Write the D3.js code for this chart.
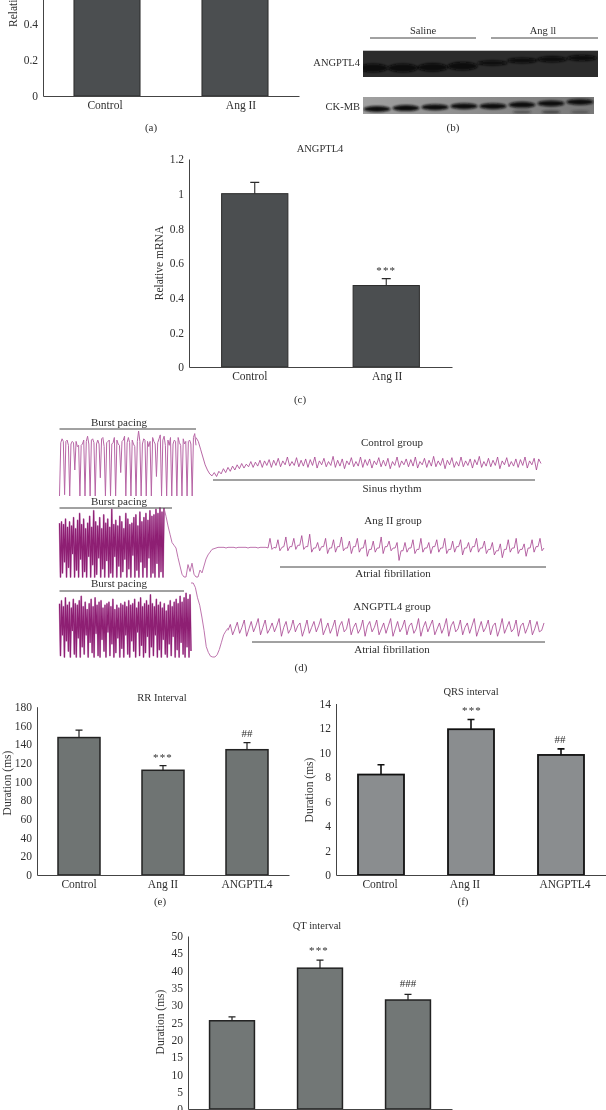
<!DOCTYPE html>
<html><head><meta charset="utf-8">
<style>
html,body{margin:0;padding:0;background:#fff;overflow:hidden}
svg{display:block;filter:blur(.35px)}
text{font-family:"Liberation Serif",serif;fill:#2f2f2f}
</style>
<script src="https://cdn.jsdelivr.net/npm/d3@7/dist/d3.min.js"></script>
</head><body><svg id="c" width="606" height="1110"></svg>
<script>
// ---------- bar chart data ----------
const catsTwo = ["Control", "Ang II"];
const catsThree = ["Control", "Ang II", "ANGPTL4"];
const ticksRelative = [0, 0.2, 0.4, 0.6, 0.8, 1, 1.2];
const ticksRelativeVisible = [0, 0.2, 0.4];
const ticksRR = [0, 20, 40, 60, 80, 100, 120, 140, 160, 180];
const ticksQRS = [0, 2, 4, 6, 8, 10, 12, 14];
const ticksQT = [0, 5, 10, 15, 20, 25, 30, 35, 40, 45, 50];
const valuesA = [1, 0.8];
const errorsA = [1.05, 0.85];
const valuesC = [1, 0.47];
const errorsC = [1.065, 0.51];
const valuesE = [147, 112, 134];
const errorsE = [155, 117, 141.5];
const valuesF = [8.2, 11.9, 9.8];
const errorsF = [9, 12.7, 10.3];
const valuesG = [25.5, 40.7, 31.5];
const errorsG = [26.6, 43, 33.1];
const marksC = ["", "***"];
const marksE = ["", "***", "##"];
const marksF = ["", "***", "##"];
const marksG = ["", "***", "###"];

// ---------- western blot data ----------
const lanes = [1, 2, 3, 4, 5, 6, 7, 8];
const angptl4Drift = [0, 0, 0.5, 1.5, 4, 6, 7, 8];
const angptl4Strength = [1, 1, 1, 1, 0.6, 0.65, 0.7, 0.7];
const ckmbDrift = [0, 1, 2, 3, 3, 4.5, 6, 7.5];
const ckmbStrength = [1, 1, 1, 1, 1, 1, 1, 1];
const ckmbLower = [0, 0, 0, 0, 0, 0.5, 0.6, 0.4];

// ---------- ECG traces (relative amplitude 0-100) ----------
const burstControl = [0,82,88,84,2,84,86,78,0,80,84,82,40,84,76,78,0,78,80,86,0,84,92,80,0,86,88,82,0,80,86,80,28,88,90,76,0,82,84,86,0,80,82,90,0,86,80,78,36,84,86,92,0,82,90,82,0,86,80,76,0,84,100,84,0,80,88,86,0,84,76,84,0,90,84,80,30,82,88,94,0,86,92,78,0,86,78,90,0,80,86,84,0,90,82,78,0,88,80,84,0,84,86,80,0,90,96,78];
const sinusControl = [90,84,72,60,48,40,34,31,36,30,38,34,42,36,44,38,46,40,48,42,50,43,49,45,53,44,52,46,55,44,54,47,56,44,55,47,58,45,54,48,60,46,53,47,59,45,55,46,57,44,56,47,60,43,54,48,58,45,53,47,61,44,55,46,57,42,54,48,59,45,53,46,60,44,56,47,57,43,54,48,59,45,55,46,58,42,53,47,60,44,54,48,57,45,56,46,60,43,53,48,58,44,55,46,61,45,54,47,58,42,55,48,59,44,53,46,60,45,54,47,57,43,56,48,61,44,53,46,58,45,55,47,60,42,54,48,59,45,53,46,57,44,56,47,60,43,54,48,58,40,57,50];
const burstAngII = [78,0,80,6,76,22,84,0,72,14,80,0,74,34,86,0,70,10,82,0,92,26,76,0,84,8,70,0,78,30,88,0,72,18,96,0,80,4,74,28,86,0,70,12,90,0,78,24,84,0,72,6,98,0,76,30,82,0,74,16,88,0,80,8,70,26,92,0,84,12,76,0,78,32,86,0,90,10,74,0,94,22,80,0,86,14,92,0,82,28,96,0,88,6,90,0,98,20,92,0,100,8,94,0,100];
const tailAngII = [100,88,74,62,50,46,42,28,16,4,0,0,18,8,20,4,0,0,10,6,16,26,32,36,40,41,42,43,43,43,43,42,43,43,43,43,42,43,43,43,43,43,42,43,43,43,43,42,43,43,43,43,42];
const fibAngII = [42,56,40,43,42,54,38,43,44,58,38,44,44,56,40,46,46,60,40,44,44,62,36,42,42,50,38,44,44,56,34,42,42,54,36,44,44,58,38,42,42,52,34,44,44,56,36,42,42,54,30,40,40,52,36,42,42,58,34,44,44,52,38,42,42,50,24,38,38,50,36,42,42,54,34,40,40,56,36,42,42,50,34,44,44,54,36,42,42,56,34,40,40,52,36,44,44,54,32,42,42,50,36,44,44,56,36,42,42,52,34,40,40,50,32,38,38,48,28,40,40,54,36,42,42,56,34,40,40,48,30,42,42,54,36,44,44,56,38,42];
const burstAngptl4 = [72,2,76,30,68,0,80,22,70,8,74,0,66,36,78,4,72,0,70,26,76,0,82,14,68,4,74,30,64,0,72,20,78,6,68,0,80,32,70,2,74,0,76,24,66,8,70,0,72,34,74,2,68,18,78,0,64,6,70,26,66,0,72,12,70,0,74,30,68,4,76,0,70,22,72,8,78,0,66,34,74,2,80,16,68,0,72,6,76,28,70,0,84,14,72,2,68,30,78,0,70,10,74,0,66,24,72,4,62,0,70,18,76,2,68,28,74,0,78,10,72,0,82,20,74,4,80,0,86,14,78,0,84,8];
const tailAngptl4 = [100,100,94,80,70,54,36,14,6,1,0,0,3,10,20,30,35,39];
const fibAngptl4 = [36,44,30,38,47,32,40,50,28,38,48,34,42,52,30,40,50,32,38,46,34,42,52,28,40,48,32,38,50,34,42,46,28,38,50,32,40,48,34,42,52,30,38,46,32,40,50,28,42,48,34,38,52,30,40,46,32,38,50,28,42,48,34,40,50,30,38,46,32,42,52,28,38,48,34,40,50,30,42,46,32,38,52,28,40,48,34,42,50,30,38,46,32,40,52,28,42,48,34,38,50,30,40,46,32,42,52,28,38,48,34,40,50,30,42,46,28,38,52,32,40,48,34,38,50,28,42,46,32,40,50,30,38,48,34,36,46];

// ---------- drawing ----------
const svg = d3.select("#c");
const defs = svg.append("defs");
defs.append("filter").attr("id","soft").append("feGaussianBlur").attr("stdDeviation",1.1);
const ckGrad = defs.append("linearGradient").attr("id","ckbg");
ckGrad.append("stop").attr("offset","0%").attr("stop-color","#a0a0a0");
ckGrad.append("stop").attr("offset","100%").attr("stop-color","#787878");

function label(t, x, y, size, anchor){
  return svg.append("text").attr("x",x).attr("y",y).attr("font-size",size||11)
    .attr("text-anchor",anchor||"middle").attr("dominant-baseline","central").text(t);
}
function barPanel(o){
  const x = d3.scaleBand().domain(o.cats).range([o.x0,o.x1]).paddingInner(o.pad).paddingOuter(o.pad/2);
  const y = d3.scaleLinear().domain([o.ticks[0],o.ticks[o.ticks.length-1]]).range([o.y0,o.yTop]);
  const g = svg.append("g");
  g.selectAll("rect.bar").data(o.cats).join("rect").attr("class","bar")
    .attr("x",d=>x(d)).attr("width",x.bandwidth())
    .attr("y",(d,i)=>y(o.values[i])).attr("height",(d,i)=>o.y0-y(o.values[i]))
    .attr("fill",o.fill).attr("stroke",o.stroke).attr("stroke-width",o.sw);
  const cx = d=>x(d)+x.bandwidth()/2;
  g.selectAll("path.err").data(o.cats).join("path").attr("class","err")
    .attr("d",(d,i)=>{
      const p=d3.path(); const c=cx(d);
      p.moveTo(c,y(o.values[i])); p.lineTo(c,y(o.errors[i]));
      p.moveTo(c-o.cap,y(o.errors[i])); p.lineTo(c+o.cap,y(o.errors[i]));
      return p.toString();})
    .attr("fill","none").attr("stroke",o.stroke).attr("stroke-width",o.errW||1.1);
  const ay = g.append("g").attr("transform",`translate(${o.x0},0)`)
    .call(d3.axisLeft(y).tickValues(o.shownTicks||o.ticks).tickSize(0).tickPadding(5).tickFormat(d3.format("~g")));
  const xAxis = d3.axisBottom(x).tickSize(0).tickPadding(5);
  if(o.noCats) xAxis.tickFormat("");
  const ax = g.append("g").attr("transform",`translate(0,${o.y0})`).call(xAxis);
  [ay,ax].forEach(a=>{a.select(".domain").attr("stroke","#444").attr("stroke-width",1);
    a.selectAll("text").attr("font-size",11.5).attr("font-family",'"Liberation Serif",serif').attr("fill","#2f2f2f");});
  ax.selectAll("text").attr("dx",(d,i)=>(o.labelDx?o.labelDx[i]:0));
  if(o.marks) o.cats.forEach((d,i)=>{ if(o.marks[i]) label(o.marks[i],o.markX?o.markX[i]:cx(d),o.markY[i]+1,11).attr("letter-spacing",o.marks[i][0]==="*"?1.2:0); });
  if(o.title) label(o.title[0],o.title[1],o.title[2],10.5);
  svg.append("text").attr("transform",`translate(${o.yl[0]},${o.yl[1]}) rotate(-90)`)
    .attr("text-anchor",o.yl[3]||"middle").attr("dominant-baseline","central").attr("font-size",11.5).text(o.yl[2]);
}
const tones = {dark:"#4b4e50", mid:"#6f7473", lite:"#8a8d8f", qt:"#727776"};
barPanel({cats:catsTwo,values:valuesA,errors:errorsA,ticks:ticksRelative,shownTicks:ticksRelativeVisible,x0:43,x1:299,y0:96,yTop:-120,pad:.484,fill:tones.dark,stroke:"#2b2b2b",sw:1,cap:5,labelDx:[-2,6],yl:[13,27,"Relative mRNA","start"]});
barPanel({cats:catsTwo,values:valuesC,errors:errorsC,ticks:ticksRelative,x0:189,x1:452,y0:367,yTop:159,pad:.496,fill:tones.dark,stroke:"#2b2b2b",sw:1,cap:4.5,labelDx:[-5,1],marks:marksC,markY:[0,269],title:["ANGPTL4",320,148],yl:[159,263,"Relative mRNA"]});
barPanel({cats:catsThree,values:valuesE,errors:errorsE,ticks:ticksRR,x0:37,x1:289,y0:875,yTop:706.7,pad:.5,fill:tones.mid,stroke:"#222",sw:1.5,cap:3.5,errW:1.2,marks:marksE,markY:[0,756,732],title:["RR Interval",162,697],yl:[7,783,"Duration (ms)"]});
barPanel({cats:catsThree,values:valuesF,errors:errorsF,ticks:ticksQRS,x0:336,x1:606,y0:875,yTop:703.5,pad:.489,fill:tones.lite,stroke:"#111",sw:1.8,cap:3.5,errW:1.6,labelDx:[-1,-6,4],marks:marksF,markX:[0,472,560],markY:[0,709,738],title:["QRS interval",471,691],yl:[309,790,"Duration (ms)"]});
barPanel({cats:catsThree,values:valuesG,errors:errorsG,ticks:ticksQT,x0:188,x1:452,y0:1109,yTop:936,pad:.49,noCats:true,fill:tones.qt,stroke:"#222",sw:1.5,cap:3.5,errW:1.2,marks:marksG,markX:[0,319,408],markY:[0,949,982],title:["QT interval",317,925],yl:[160,1022,"Duration (ms)"]});

// panel captions
[["(a)",151,127],["(b)",453,127],["(c)",300,399],["(d)",301,667],["(e)",160,901],["(f)",463,901]].forEach(d=>label(d[0],d[1],d[2],11));

// western blots
function blot(o){
  svg.append("rect").attr("x",o.x0).attr("y",o.y0).attr("width",o.x1-o.x0).attr("height",o.y1-o.y0).attr("fill",o.bg);
  const lx = d3.scalePoint().domain(lanes).range([o.l0,o.l1]);
  const dy = d3.scaleLinear().domain([0,8]).range([o.base,o.base-o.rise]);
  const clip = "clip"+o.id;
  defs.append("clipPath").attr("id",clip).append("rect").attr("x",o.x0).attr("y",o.y0).attr("width",o.x1-o.x0).attr("height",o.y1-o.y0);
  const g = svg.append("g").attr("clip-path",`url(#${clip})`).append("g").attr("filter","url(#soft)");
  g.selectAll("ellipse.m").data(lanes).join("ellipse").attr("class","m")
    .attr("cx",d=>lx(d)).attr("cy",(d,i)=>dy(o.drift[i]))
    .attr("rx",o.rx).attr("ry",(d,i)=>o.ry*o.strength[i]).attr("fill",o.band);
  if(o.lower) g.selectAll("ellipse.l").data(lanes).join("ellipse").attr("class","l")
    .attr("cx",d=>lx(d)).attr("cy",o.base+3).attr("rx",o.rx*.7).attr("ry",1.6)
    .attr("fill","#222").attr("opacity",(d,i)=>o.lower[i]);
}
blot({id:"a",x0:363,x1:598,y0:50.7,y1:77,bg:"#2c2c2c",band:"#080808",l0:373,l1:582,base:68,rise:10,rx:15,ry:4.2,drift:angptl4Drift,strength:angptl4Strength});
blot({id:"b",x0:363,x1:594,y0:97,y1:114,bg:"url(#ckbg)",band:"#0c0c0c",l0:377,l1:580,base:109,rise:7.5,rx:13.5,ry:3,drift:ckmbDrift,strength:ckmbStrength,lower:ckmbLower});
function hline(a,b,y){svg.append("line").attr("x1",a).attr("x2",b).attr("y1",y).attr("y2",y).attr("stroke","#444").attr("stroke-width",1);}
hline(370,476,38); hline(491,598,38);
label("Saline",423,30,10.5); label("Ang ll",543,30,10.5);
label("ANGPTL4",360,62,10.5,"end"); label("CK-MB",360,106,10.5,"end");

// ECG traces
function trace(o){
  const y = d3.scaleLinear().domain([0,100]).range([o.bottom,o.top]);
  const line = d3.line().x(d=>d[0]).y(d=>y(d[1]));
  o.parts.forEach(p=>{
    const x = d3.scaleLinear().domain([0,p.v.length-1]).range([p.a,p.b]);
    const pts = p.v.map((v,i)=>[x(i),v]);
    const draw = (c,w)=>svg.append("path").attr("d",line(pts)).attr("fill","none")
      .attr("stroke",c).attr("stroke-width",w).attr("stroke-linejoin","round");
    if(p.under) draw(p.under,1.8);
    draw(p.c,p.w);
  });
}
const ink = {dark:"#8e1f73", mid:"#a4408e", lite:"#b765a5", pale:"#cf9cc8"};
trace({top:431,bottom:496,parts:[
  {v:burstControl,a:59.5,b:196,c:ink.lite,w:1},
  {v:sinusControl,a:196,b:541,c:ink.mid,w:.8}]});
trace({top:508,bottom:577,parts:[
  {v:burstAngII,a:59.5,b:164,c:ink.dark,w:1.1,under:ink.pale},
  {v:tailAngII,a:164,b:268,c:ink.lite,w:.9},
  {v:fibAngII,a:268,b:544,c:ink.mid,w:.8}]});
trace({top:583,bottom:657,parts:[
  {v:burstAngptl4,a:59.5,b:191,c:ink.dark,w:1.1,under:ink.pale},
  {v:tailAngptl4,a:191,b:228,c:ink.lite,w:.9},
  {v:fibAngptl4,a:228,b:544,c:ink.mid,w:.8}]});

hline(59.5,196,429); hline(59.5,172,508); hline(59.5,184,591);
hline(213,535,480); hline(280,546,567); hline(252,545,642);
[["Burst pacing",119,422],["Burst pacing",119,501],["Burst pacing",119,583],["Control group",392,442],["Sinus rhythm",392,488],["Ang II group",393,520],["Atrial fibrillation",393,573],["ANGPTL4 group",392,606],["Atrial fibrillation",392,649]]
  .forEach(d=>label(d[0],d[1],d[2],11));
</script></body></html>
